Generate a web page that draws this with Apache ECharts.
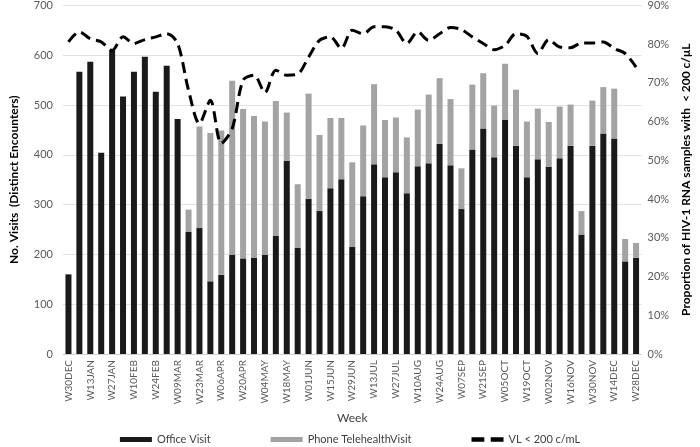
<!DOCTYPE html>
<html>
<head>
<meta charset="utf-8">
<script src="https://cdn.jsdelivr.net/npm/echarts@6/dist/echarts.min.js"></script>
<style>
html, body { margin: 0; padding: 0; background: #fff; }
#chart { width: 700px; height: 447px; }
</style>
</head>
<body>
<div id="chart"></div>
<script>
// weeks (Mondays) of the year
const weeks = [
  'W30DEC', 'W06JAN', 'W13JAN', 'W20JAN', 'W27JAN', 'W03FEB', 'W10FEB', 'W17FEB', 'W24FEB',
  'W02MAR', 'W09MAR', 'W16MAR', 'W23MAR', 'W30MAR', 'W06APR', 'W13APR', 'W20APR', 'W27APR',
  'W04MAY', 'W11MAY', 'W18MAY', 'W25MAY', 'W01JUN', 'W08JUN', 'W15JUN', 'W22JUN', 'W29JUN',
  'W06JUL', 'W13JUL', 'W20JUL', 'W27JUL', 'W03AUG', 'W10AUG', 'W17AUG', 'W24AUG', 'W31AUG',
  'W07SEP', 'W14SEP', 'W21SEP', 'W28SEP', 'W05OCT', 'W12OCT', 'W19OCT', 'W26OCT', 'W02NOV',
  'W09NOV', 'W16NOV', 'W23NOV', 'W30NOV', 'W07DEC', 'W14DEC', 'W21DEC', 'W28DEC'
]

// office visits
const officeVisit = [
  160, 567, 587, 404, 610, 517, 567, 597, 527,
  579, 472, 245, 253, 146, 159, 199, 192, 193,
  199, 237, 388, 213, 312, 287, 333, 351, 215,
  317, 381, 355, 365, 323, 377, 383, 422, 379,
  291, 411, 453, 395, 470, 418, 355, 391, 376,
  393, 418, 240, 418, 443, 433, 186, 193
]

// phone / telehealth visits (stacked on top)
const phoneVisit = [
  0, 0, 0, 0, 0, 0, 0, 0, 0,
  0, 0, 45, 204, 298, 290, 350, 300, 285,
  268, 271, 97, 128, 211, 153, 141, 123, 170,
  142, 161, 115, 110, 112, 114, 138, 132, 133,
  82, 130, 111, 104, 113, 113, 112, 102, 90,
  104, 83, 47, 91, 93, 100, 45, 30
]

// proportion VL < 200 c/mL (%)
const vlSuppressed = [
  80.6, 83.2, 81.4, 80.6, 78.4, 81.9, 80.2, 81.2, 81.9,
  82.7, 80.2, 68.1, 59.5, 65.5, 54.4, 58.2, 70.7, 72.0,
  67.5, 73.3, 72.0, 72.3, 76.7, 81.0, 81.9, 78.9, 83.6,
  82.7, 84.5, 84.5, 83.6, 80.2, 83.2, 81.0, 82.7, 84.3,
  83.8, 81.9, 80.2, 78.6, 79.7, 82.7, 82.0, 77.6, 81.2,
  79.3, 79.1, 80.3, 80.3, 80.6, 78.9, 77.6, 74.1
]

const font = 'Lato'
const chart = echarts.init(document.getElementById('chart'))

const option = {
  animation: false,
  textStyle: { fontFamily: font },
  grid: { left: 55, right: 48, top: 5, bottom: 93 },
  legend: {
    top: 429,
    left: 'center',
    itemGap: 60,
    itemWidth: 32,
    itemHeight: 5,
    textStyle: { fontFamily: font, fontSize: 11, color: '#404040' },
    data: [
      { name: 'Office Visit', icon: 'rect' },
      { name: 'Phone TelehealthVisit', icon: 'rect' },
      { name: 'VL < 200 c/mL', icon: 'path://M0,0H12V4H0Z M18,0H30V4H18Z', itemStyle: { color: '#000' } }
    ]
  },
  xAxis: {
    type: 'category',
    data: weeks,
    name: 'Week',
    nameLocation: 'middle',
    nameGap: 58,
    nameTextStyle: { fontFamily: font, fontSize: 12, color: '#404040' },
    axisLine: { lineStyle: { color: '#d0d0d0' } },
    axisTick: { show: false },
    axisLabel: {
      interval: 1,
      rotate: 90,
      fontSize: 10,
      color: '#595959',
      margin: 6
    }
  },
  yAxis: [{
    type: 'value',
    min: 0,
    max: 700,
    interval: 100,
    name: 'No. Visits  (Distinct Encounters)',
    nameLocation: 'middle',
    nameGap: 43,
    nameTextStyle: { fontFamily: font, fontSize: 12, fontWeight: 'bold', color: '#000' },
    axisLabel: { fontSize: 11, color: '#595959', margin: 10 },
    axisLine: { show: false },
    axisTick: { show: false },
    splitLine: { lineStyle: { color: '#e3e3e3' } }
  }, {
    type: 'value',
    min: 0,
    max: 90,
    interval: 10,
    name: 'Proportion of HIV-1 RNA samples with  < 200 c/\u03bcL',
    nameLocation: 'middle',
    nameGap: 37,
    nameTextStyle: { fontFamily: font, fontSize: 12, fontWeight: 'bold', color: '#000' },
    axisLabel: { fontSize: 11, color: '#595959', margin: 6, formatter: '{value}%' },
    axisLine: { show: false },
    axisTick: { show: false },
    splitLine: { show: false }
  }],
  series: [{
    name: 'Office Visit',
    type: 'bar',
    stack: 'visits',
    data: officeVisit,
    barCategoryGap: '45%',
    itemStyle: { color: '#1a1a1a' }
  }, {
    name: 'Phone TelehealthVisit',
    type: 'bar',
    stack: 'visits',
    data: phoneVisit,
    itemStyle: { color: '#a3a3a3' }
  }, {
    name: 'VL < 200 c/mL',
    type: 'line',
    yAxisIndex: 1,
    data: vlSuppressed,
    smooth: 0.3,
    symbol: 'none',
    lineStyle: { color: '#000', width: 3, type: [11, 6] },
    itemStyle: { color: '#000' }
  }]
}

chart.setOption(option)
</script>
</body>
</html>
